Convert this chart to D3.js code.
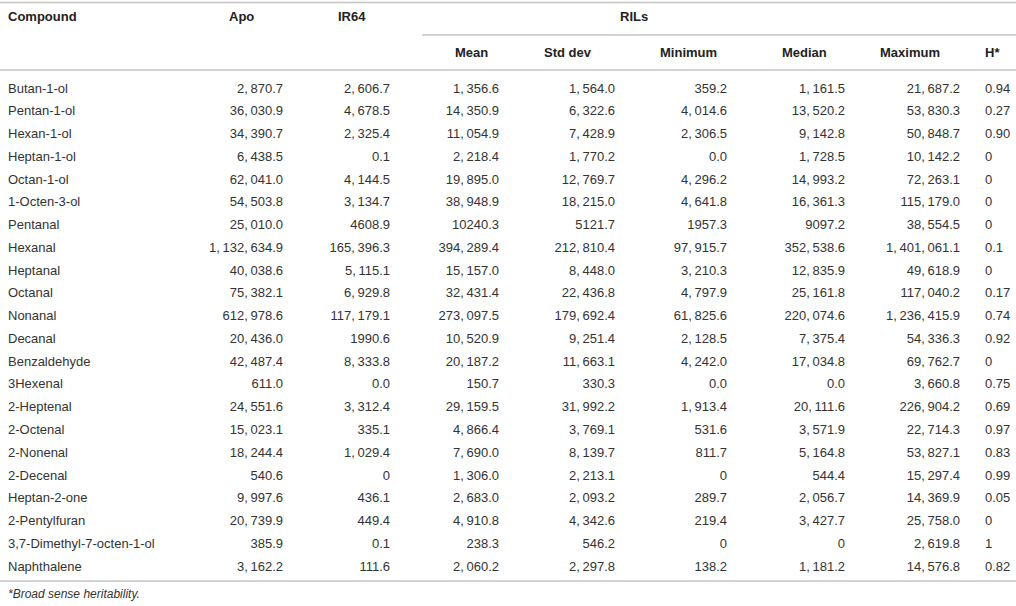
<!DOCTYPE html>
<head>
  <meta charset="utf-8">
  <title>Volatile compounds</title>
  <script src="https://d3js.org/d3.v7.min.js"></script>
  <style>
  body {
    margin: 0;
    background: #fff;
  }
  text {
    font-family: "Liberation Sans", Arial, sans-serif;
    font-size: 13px;
    fill: #333;
  }
  .head text {
    font-weight: bold;
    fill: #222;
  }
  .rule {
    stroke: #c4c4c4;
    stroke-width: 1.5px;
  }
  .note {
    font-style: italic;
    font-size: 12px;
  }
  </style>
</head>
<body>
<script type="text/javascript">
// Table values (kept as printed)
var compounds = ["Butan-1-ol", "Pentan-1-ol", "Hexan-1-ol", "Heptan-1-ol", "Octan-1-ol",
  "1-Octen-3-ol", "Pentanal", "Hexanal", "Heptanal", "Octanal", "Nonanal", "Decanal",
  "Benzaldehyde", "3Hexenal", "2-Heptenal", "2-Octenal", "2-Nonenal", "2-Decenal",
  "Heptan-2-one", "2-Pentylfuran", "3,7-Dimethyl-7-octen-1-ol", "Naphthalene"];

var apo = ["2,870.7", "36,030.9", "34,390.7", "6,438.5", "62,041.0", "54,503.8", "25,010.0",
  "1,132,634.9", "40,038.6", "75,382.1", "612,978.6", "20,436.0", "42,487.4", "611.0",
  "24,551.6", "15,023.1", "18,244.4", "540.6", "9,997.6", "20,739.9", "385.9", "3,162.2"];

var ir64 = ["2,606.7", "4,678.5", "2,325.4", "0.1", "4,144.5", "3,134.7", "4608.9",
  "165,396.3", "5,115.1", "6,929.8", "117,179.1", "1990.6", "8,333.8", "0.0",
  "3,312.4", "335.1", "1,029.4", "0", "436.1", "449.4", "0.1", "111.6"];

var rilMean = ["1,356.6", "14,350.9", "11,054.9", "2,218.4", "19,895.0", "38,948.9", "10240.3",
  "394,289.4", "15,157.0", "32,431.4", "273,097.5", "10,520.9", "20,187.2", "150.7",
  "29,159.5", "4,866.4", "7,690.0", "1,306.0", "2,683.0", "4,910.8", "238.3", "2,060.2"];

var rilStd = ["1,564.0", "6,322.6", "7,428.9", "1,770.2", "12,769.7", "18,215.0", "5121.7",
  "212,810.4", "8,448.0", "22,436.8", "179,692.4", "9,251.4", "11,663.1", "330.3",
  "31,992.2", "3,769.1", "8,139.7", "2,213.1", "2,093.2", "4,342.6", "546.2", "2,297.8"];

var rilMin = ["359.2", "4,014.6", "2,306.5", "0.0", "4,296.2", "4,641.8", "1957.3",
  "97,915.7", "3,210.3", "4,797.9", "61,825.6", "2,128.5", "4,242.0", "0.0",
  "1,913.4", "531.6", "811.7", "0", "289.7", "219.4", "0", "138.2"];

var rilMedian = ["1,161.5", "13,520.2", "9,142.8", "1,728.5", "14,993.2", "16,361.3", "9097.2",
  "352,538.6", "12,835.9", "25,161.8", "220,074.6", "7,375.4", "17,034.8", "0.0",
  "20,111.6", "3,571.9", "5,164.8", "544.4", "2,056.7", "3,427.7", "0", "1,181.2"];

var rilMax = ["21,687.2", "53,830.3", "50,848.7", "10,142.2", "72,263.1", "115,179.0", "38,554.5",
  "1,401,061.1", "49,618.9", "117,040.2", "1,236,415.9", "54,336.3", "69,762.7", "3,660.8",
  "226,904.2", "22,714.3", "53,827.1", "15,297.4", "14,369.9", "25,758.0", "2,619.8", "14,576.8"];

var heritability = ["0.94", "0.27", "0.90", "0", "0", "0", "0", "0.1", "0", "0.17", "0.74",
  "0.92", "0", "0.75", "0.69", "0.97", "0.83", "0.99", "0.05", "0", "1", "0.82"];

var width = 1016,
    height = 606;

// column layout: where the header sits and where the values line up
var columns = [
  {name: "Compound", values: compounds,    hx: 8,   vx: 8,   anchor: "start", row: 0},
  {name: "Apo",      values: apo,          hx: 229, vx: 283, anchor: "end",   row: 0},
  {name: "IR64",     values: ir64,         hx: 338, vx: 390, anchor: "end",   row: 0},
  {name: "Mean",     values: rilMean,      hx: 455, vx: 499, anchor: "end",   row: 1},
  {name: "Std dev",  values: rilStd,       hx: 544, vx: 615, anchor: "end",   row: 1},
  {name: "Minimum",  values: rilMin,       hx: 660, vx: 727, anchor: "end",   row: 1},
  {name: "Median",   values: rilMedian,    hx: 782, vx: 845, anchor: "end",   row: 1},
  {name: "Maximum",  values: rilMax,       hx: 880, vx: 960, anchor: "end",   row: 1},
  {name: "H*",       values: heritability, hx: 985, vx: 985, anchor: "start", row: 1}
];

var svg = d3.select("body").append("svg")
    .attr("width", width)
    .attr("height", height);

// one row per compound
var y = d3.scalePoint()
    .domain(compounds)
    .range([88, 566]);

// the two header rows
var headY = d3.scalePoint()
    .domain([0, 1])
    .range([16, 52]);

// rules
svg.append("line").attr("class", "rule")
    .attr("x1", 0).attr("x2", width).attr("y1", 2.5).attr("y2", 2.5);
svg.append("line").attr("class", "rule")
    .attr("x1", 422).attr("x2", width).attr("y1", 35).attr("y2", 35);
svg.append("line").attr("class", "rule")
    .attr("x1", 0).attr("x2", width).attr("y1", 70).attr("y2", 70);
svg.append("line").attr("class", "rule")
    .attr("x1", 0).attr("x2", width).attr("y1", 581).attr("y2", 581);

var head = svg.append("g").attr("class", "head");

head.selectAll("text.col")
    .data(columns)
    .enter().append("text")
      .attr("class", "col")
      .attr("x", function(d) { return d.hx; })
      .attr("y", function(d) { return headY(d.row); })
      .attr("dy", "0.35em")
      .text(function(d) { return d.name; });

head.append("text")
    .attr("x", 620)
    .attr("y", headY(0))
    .attr("dy", "0.35em")
    .text("RILs");

// body cells, comma followed by a small gap like the print
var cols = svg.selectAll("g.column")
    .data(columns)
    .enter().append("g")
      .attr("class", "column");

cols.selectAll("text")
    .data(function(d) { return d.values.map(function(v, i) { return {v: v, c: d, i: i}; }); })
    .enter().append("text")
      .attr("x", function(d) { return d.c.vx; })
      .attr("y", function(d) { return y(compounds[d.i]); })
      .attr("dy", "0.35em")
      .attr("text-anchor", function(d) { return d.c.anchor; })
      .text(function(d) { return d.c.name == "Compound" ? d.v : d.v.replace(/,/g, ",\u2009"); });

svg.append("text")
    .attr("class", "note")
    .attr("x", 8)
    .attr("y", 594)
    .attr("dy", "0.35em")
    .text("*Broad sense heritability.");
</script>
</body>
</html>
